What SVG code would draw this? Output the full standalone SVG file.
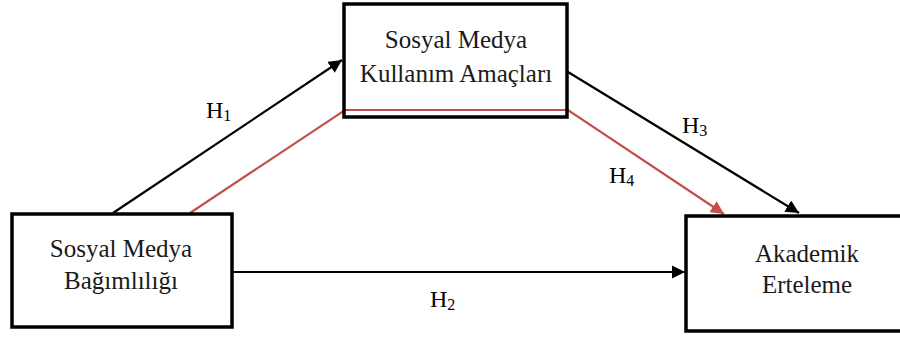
<svg xmlns="http://www.w3.org/2000/svg" width="900" height="338" viewBox="0 0 900 338">
<defs>
<style>
text{font-family:'Liberation Serif','Times New Roman',serif}
.box{fill:#fff;stroke:#000;stroke-width:3.5}
.t{font-size:25px;fill:#1a1a1a;text-anchor:middle}
.h{font-size:24px;fill:#000}
.s{font-size:16px}
.blk{stroke:#000;stroke-width:2.2;fill:none}
.red{stroke:#c0504d;stroke-width:2.2;fill:none}
</style>
<marker id="ab" viewBox="0 0 10 10" refX="10" refY="5" markerWidth="6" markerHeight="6" markerUnits="strokeWidth" orient="auto"><path d="M0,0 L10,5 L0,10 z" fill="#000"/></marker>
<marker id="ar" viewBox="0 0 10 10" refX="10" refY="5" markerWidth="6" markerHeight="6" markerUnits="strokeWidth" orient="auto"><path d="M0,0 L10,5 L0,10 z" fill="#c0504d"/></marker>
</defs>
<g id="connectors">
<line class="blk" x1="113" y1="213" x2="342" y2="60" marker-end="url(#ab)"/>
<line class="blk" x1="568" y1="72" x2="799" y2="213" marker-end="url(#ab)"/>
<line class="blk" x1="232" y1="272" x2="685" y2="272" marker-end="url(#ab)"/>
<polyline class="red" points="190,213 345,110 568,110 724,214" marker-end="url(#ar)"/>
</g>
<g id="n1"><rect class="box" x="12" y="214" width="220" height="113"/>
<text class="t" x="121" y="257">Sosyal Medya</text><text class="t" x="121" y="289">Bağımlılığı</text></g>
<g id="n2"><rect class="box" x="344" y="4" width="223" height="113" style="fill:none"/>
<text class="t" x="456" y="48">Sosyal Medya</text><text class="t" x="456" y="82">Kullanım Amaçları</text></g>
<g id="n3"><rect class="box" x="686" y="216" width="222" height="115"/>
<text class="t" x="807" y="262">Akademik</text><text class="t" x="807" y="293">Erteleme</text></g>
<g id="labels">
<text class="h" x="206" y="118">H<tspan class="s" dy="3">1</tspan></text>
<text class="h" x="430" y="307">H<tspan class="s" dy="3">2</tspan></text>
<text class="h" x="682" y="133">H<tspan class="s" dy="3">3</tspan></text>
<text class="h" x="609" y="183">H<tspan class="s" dy="3">4</tspan></text>
</g>
</svg>
